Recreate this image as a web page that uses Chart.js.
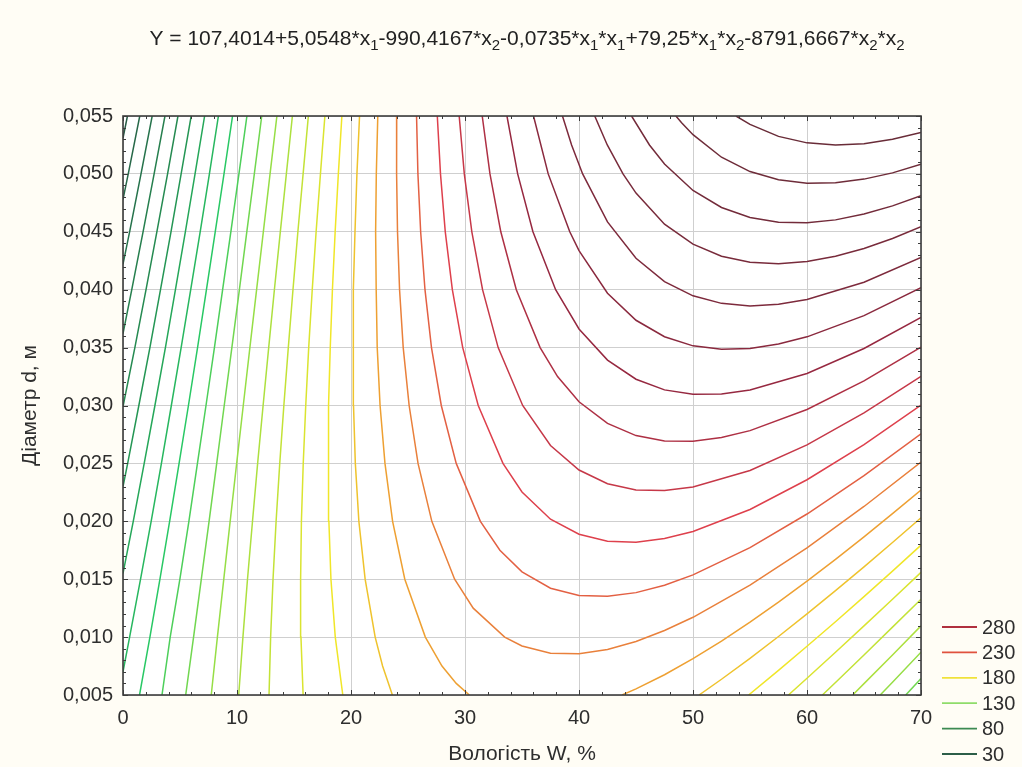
<!DOCTYPE html>
<html>
<head>
<meta charset="utf-8">
<title>Y(W, d) contour plot</title>
<script src="https://cdn.jsdelivr.net/npm/chart.js@4.4.1/dist/chart.umd.min.js"></script>
<style>
  html, body { margin: 0; padding: 0; background: #fffdf5; }
  #wrap { position: relative; width: 1022px; height: 767px; }
</style>
</head>
<body>
<div id="wrap"><canvas id="contourChart" width="1022" height="767"></canvas></div>
<script>
// axis ticks
const xTicks = [0, 10, 20, 30, 40, 50, 60, 70];
const yTicks = [0.005, 0.010, 0.015, 0.020, 0.025, 0.030, 0.035, 0.040, 0.045, 0.050, 0.055];
const legendLevels = [280, 230, 180, 130, 80, 30];

// contour lines, points are [W %, d m]
const c030 = [[0, 0.0531], [0.39, 0.055]];
const c040 = [[0, 0.0478], [0.46, 0.050], [1.47, 0.055]];
const c050 = [[0, 0.0422], [0.58, 0.045], [1.58, 0.050], [2.56, 0.055]];
const c060 = [[0, 0.0362], [0.77, 0.040], [1.76, 0.045], [2.73, 0.050], [3.68, 0.055]];
const c070 = [[0, 0.0299], [1.04, 0.035], [2.02, 0.040], [2.97, 0.045], [3.91, 0.050], [4.82, 0.055]];
const c080 = [[0, 0.0230], [0.41, 0.025], [1.39, 0.030], [2.36, 0.035], [3.29, 0.040], [4.21, 0.045], [5.10, 0.050], [5.98, 0.055]];
const c090 = [[0, 0.0155], [0.90, 0.020], [1.86, 0.025], [2.80, 0.030], [3.72, 0.035], [4.60, 0.040], [5.47, 0.045], [6.32, 0.050], [7.16, 0.055]];
const c100 = [[0, 0.0070], [0.58, 0.010], [1.54, 0.015], [2.47, 0.020], [3.37, 0.025], [4.24, 0.030], [5.10, 0.035], [5.94, 0.040], [6.77, 0.045], [7.58, 0.050], [8.37, 0.055]];
const c110 = [[1.45, 0.005], [2.36, 0.010], [3.24, 0.015], [4.09, 0.020], [4.92, 0.025], [5.74, 0.030], [6.54, 0.035], [7.32, 0.040], [8.09, 0.045], [8.86, 0.050], [9.61, 0.055]];
const c120 = [[3.42, 0.005], [4.14, 0.010], [4.99, 0.015], [5.78, 0.020], [6.53, 0.025], [7.28, 0.030], [8.02, 0.035], [8.74, 0.040], [9.46, 0.045], [10.17, 0.050], [10.87, 0.055]];
const c130a = [[5.50, 0.005], [6.19, 0.010], [6.87, 0.015], [7.55, 0.020], [8.22, 0.025], [8.88, 0.030], [9.55, 0.035], [10.21, 0.040], [10.86, 0.045], [11.52, 0.050], [12.17, 0.055]];
const c140a = [[7.74, 0.005], [8.28, 0.010], [8.84, 0.015], [9.40, 0.020], [9.97, 0.025], [10.55, 0.030], [11.13, 0.035], [11.72, 0.040], [12.31, 0.045], [12.90, 0.050], [13.50, 0.055]];
const c150a = [[10.15, 0.005], [10.52, 0.010], [10.92, 0.015], [11.36, 0.020], [11.81, 0.025], [12.29, 0.030], [12.78, 0.035], [13.28, 0.040], [13.80, 0.045], [14.33, 0.050], [14.86, 0.055]];
const c160a = [[12.81, 0.005], [12.95, 0.010], [13.16, 0.015], [13.43, 0.020], [13.75, 0.025], [14.11, 0.030], [14.50, 0.035], [14.91, 0.040], [15.34, 0.045], [15.80, 0.050], [16.26, 0.055]];
const c170a = [[15.80, 0.005], [15.61, 0.010], [15.58, 0.015], [15.65, 0.020], [15.81, 0.025], [16.03, 0.030], [16.29, 0.035], [16.60, 0.040], [16.94, 0.045], [17.32, 0.050], [17.71, 0.055]];
const c180a = [[19.28, 0.005], [18.62, 0.010], [18.24, 0.015], [18.06, 0.020], [18.01, 0.025], [18.05, 0.030], [18.18, 0.035], [18.37, 0.040], [18.61, 0.045], [18.89, 0.050], [19.20, 0.055]];
const c190a = [[23.63, 0.005], [22.77, 0.0075], [22.12, 0.010], [21.24, 0.015], [20.69, 0.020], [20.38, 0.025], [20.22, 0.030], [20.18, 0.035], [20.23, 0.040], [20.35, 0.045], [20.52, 0.050], [20.75, 0.055]];
const c200a = [[30.38, 0.005], [29.23, 0.006], [27.98, 0.0075], [26.52, 0.010], [24.72, 0.015], [23.65, 0.020], [22.98, 0.025], [22.55, 0.030], [22.30, 0.035], [22.21, 0.040], [22.16, 0.045], [22.22, 0.050], [22.35, 0.055]];

// lower right branches
const c130b = [[68.66, 0.005], [70, 0.00642]];
const c140b = [[66.42, 0.005], [67.5, 0.00611], [70, 0.00869]];
const c150b = [[64.01, 0.005], [65, 0.00598], [67.5, 0.00846], [70, 0.01097]];
const c160b = [[61.35, 0.005], [62.5, 0.00608], [65, 0.00846], [67.5, 0.01086], [70, 0.01327]];
const c170b = [[58.37, 0.005], [60, 0.00645], [62.5, 0.00869], [65, 0.01097], [67.5, 0.01327], [70, 0.01559]];
const c180b = [[54.88, 0.005], [57.5, 0.00713], [60, 0.00921], [62.5, 0.01133], [65, 0.01350], [67.5, 0.01570], [70, 0.01794]];
const c190b = [[50.53, 0.005], [52.5, 0.00636], [55, 0.00817], [57.5, 0.01005], [60, 0.01200], [62.5, 0.01401], [65, 0.01607], [67.5, 0.01817], [70, 0.02031]];
const c200b = [[43.78, 0.005], [45, 0.00553], [47.5, 0.00675], [50, 0.00814], [52.5, 0.00966], [55, 0.01129], [57.5, 0.01302], [60, 0.01484], [62.5, 0.01672], [65, 0.01866], [67.5, 0.02066], [70, 0.02270]];

// U-shaped lines, top edge to right edge
const c210 = [[24.01, 0.055], [24.00, 0.050], [24.08, 0.045], [24.26, 0.040], [24.58, 0.035], [25.10, 0.030], [25.88, 0.025], [27.09, 0.020], [29.09, 0.015], [30.72, 0.0125], [33.48, 0.010], [35, 0.00923], [37.5, 0.00861], [40, 0.00856], [42.5, 0.00893], [45, 0.00962], [47.5, 0.01057], [50, 0.01171], [55, 0.01448], [60, 0.01771], [65, 0.02128], [70, 0.02512]];
const c220 = [[25.75, 0.055], [25.87, 0.050], [26.11, 0.045], [26.49, 0.040], [27.06, 0.035], [27.92, 0.030], [29.23, 0.025], [31.35, 0.020], [33.06, 0.0175], [35, 0.01563], [37.5, 0.01422], [40, 0.01360], [42.5, 0.01352], [45, 0.01384], [47.5, 0.01448], [50, 0.01537], [55, 0.01772], [60, 0.02063], [65, 0.02394], [70, 0.02756]];
const c230 = [[27.57, 0.055], [27.85, 0.050], [28.27, 0.045], [28.89, 0.040], [29.80, 0.035], [31.16, 0.030], [33.33, 0.025], [35, 0.02253], [37.5, 0.02018], [40, 0.01888], [42.5, 0.01828], [45, 0.01820], [47.5, 0.01851], [50, 0.01912], [55, 0.02102], [60, 0.02359], [65, 0.02663], [70, 0.03003]];
const c240 = [[29.49, 0.055], [29.94, 0.050], [30.60, 0.045], [31.54, 0.040], [32.91, 0.035], [35.06, 0.030], [37.5, 0.02655], [40, 0.02443], [42.5, 0.02325], [45, 0.02271], [47.5, 0.02265], [50, 0.02296], [55, 0.02439], [60, 0.02660], [65, 0.02936], [70, 0.03252]];
const c250 = [[31.51, 0.055], [32.19, 0.050], [33.14, 0.045], [34.50, 0.040], [36.59, 0.035], [38.12, 0.0325], [40, 0.03032], [42.5, 0.02845], [45, 0.02740], [47.5, 0.02693], [50, 0.02691], [52.5, 0.02723], [55, 0.02783], [60, 0.02966], [65, 0.03212], [70, 0.03505]];
const c260 = [[33.68, 0.055], [34.62, 0.050], [35.96, 0.045], [37.95, 0.040], [40, 0.03661], [42.5, 0.03392], [45, 0.03227], [47.5, 0.03135], [50, 0.03097], [52.5, 0.03099], [55, 0.03134], [60, 0.03277], [65, 0.03492], [70, 0.03760]];
const c270 = [[36.01, 0.055], [37.30, 0.050], [39.19, 0.045], [40, 0.04338], [42.5, 0.03969], [45, 0.03736], [47.5, 0.03594], [50, 0.03515], [52.5, 0.03485], [55, 0.03493], [57.5, 0.03531], [60, 0.03593], [65, 0.03776], [70, 0.04018]];
const c280 = [[38.55, 0.055], [39.35, 0.0525], [40.32, 0.050], [42.5, 0.04585], [45, 0.04271], [47.5, 0.04070], [50, 0.03947], [52.5, 0.03882], [55, 0.03860], [57.5, 0.03874], [60, 0.03915], [65, 0.04064], [70, 0.04279]];
const c290 = [[41.38, 0.055], [42.48, 0.0525], [43.86, 0.050], [45, 0.04834], [47.5, 0.04566], [50, 0.04394], [52.5, 0.04289], [55, 0.04237], [57.5, 0.04224], [60, 0.04243], [62.5, 0.04289], [65, 0.04356], [67.5, 0.04442], [70, 0.04544]];
const c300 = [[44.61, 0.055], [46.18, 0.0525], [47.5, 0.05085], [50, 0.04857], [52.5, 0.04710], [55, 0.04623], [57.5, 0.04582], [60, 0.04578], [62.5, 0.04603], [65, 0.04653], [67.5, 0.04724], [70, 0.04812]];
const c310 = [[48.50, 0.055], [49, 0.05442], [50, 0.05339], [52.5, 0.05144], [55, 0.05020], [57.5, 0.04949], [60, 0.04919], [62.5, 0.04923], [65, 0.04955], [67.5, 0.05009], [70, 0.05083]];
const c320 = [[53.77, 0.055], [55, 0.05428], [57.5, 0.05324], [60, 0.05268], [62.5, 0.05249], [65, 0.05261], [67.5, 0.05299], [70, 0.05358]];

const contourLines = [
  [30, c030], [40, c040], [50, c050], [60, c060], [70, c070], [80, c080], [90, c090], [100, c100],
  [110, c110], [120, c120], [130, c130a], [140, c140a], [150, c150a], [160, c160a], [170, c170a],
  [180, c180a], [190, c190a], [200, c200a],
  [130, c130b], [140, c140b], [150, c150b], [160, c160b], [170, c170b], [180, c180b], [190, c190b], [200, c200b],
  [210, c210], [220, c220], [230, c230], [240, c240], [250, c250], [260, c260], [270, c270],
  [280, c280], [290, c290], [300, c300], [310, c310], [320, c320]
];

const titleParts = [
  ['Y = 107,4014+5,0548*x', false], ['1', true], ['-990,4167*x', false], ['2', true],
  ['-0,0735*x', false], ['1', true], ['*x', false], ['1', true], ['+79,25*x', false], ['1', true],
  ['*x', false], ['2', true], ['-8791,6667*x', false], ['2', true], ['*x', false], ['2', true]
];

const FONT = "'Liberation Sans', Arial, sans-serif";
const TEXT_COLOR = '#2e2e2e';

// colour ramp dark green -> yellow -> dark red
const colorStops = [
  [30, [40, 92, 70]], [80, [36, 150, 84]], [110, [40, 200, 100]], [140, [150, 222, 70]],
  [180, [240, 230, 40]], [200, [238, 160, 50]], [230, [222, 64, 76]], [260, [150, 40, 64]],
  [280, [125, 42, 60]], [320, [105, 44, 56]]
];

function levelColor(level) {
  for (let i = 1; i < colorStops.length; i++) {
    const [l1, c1] = colorStops[i];
    const [l0, c0] = colorStops[i - 1];
    if (level <= l1) {
      const t = (level - l0) / (l1 - l0);
      const c = c0.map((v, k) => Math.round(v + (c1[k] - v) * t));
      return `rgb(${c[0]},${c[1]},${c[2]})`;
    }
  }
  const c = colorStops[colorStops.length - 1][1];
  return `rgb(${c[0]},${c[1]},${c[2]})`;
}

// legend swatches are a bit lighter than the lines in the reference
const legendColors = {
  280: '#b0303e', 230: '#e0523e', 180: '#f0e23a', 130: '#8fdc6a', 80: '#3c8a52', 30: '#2c5e48'
};

const plotBackground = {
  id: 'plotBackground',
  beforeDraw(chart) {
    const { ctx, chartArea: a } = chart;
    ctx.save();
    ctx.fillStyle = '#ffffff';
    ctx.fillRect(a.left, a.top, a.right - a.left, a.bottom - a.top);
    ctx.restore();
  }
};

const plotFrame = {
  id: 'plotFrame',
  afterDatasetsDraw(chart) {
    const { ctx, chartArea: a, scales } = chart;
    ctx.save();
    ctx.strokeStyle = '#3c3c3c';
    ctx.lineWidth = 1;
    ctx.beginPath();
    for (let w = 0; w <= 70; w += 2) {
      const px = Math.round(scales.x.getPixelForValue(w)) + 0.5;
      const len = w % 10 === 0 ? 5 : 3;
      ctx.moveTo(px, a.bottom); ctx.lineTo(px, a.bottom - len);
      ctx.moveTo(px, a.top); ctx.lineTo(px, a.top + len);
    }
    for (let i = 0; i <= 50; i++) {
      const py = Math.round(scales.y.getPixelForValue(0.005 + i * 0.001)) + 0.5;
      const len = i % 5 === 0 ? 5 : 3;
      ctx.moveTo(a.left, py); ctx.lineTo(a.left + len, py);
      ctx.moveTo(a.right, py); ctx.lineTo(a.right - len, py);
    }
    ctx.stroke();
    ctx.lineWidth = 1.6;
    ctx.strokeRect(a.left, a.top, a.right - a.left, a.bottom - a.top);
    ctx.restore();
  }
};

const formulaTitle = {
  id: 'formulaTitle',
  afterDraw(chart) {
    const { ctx } = chart;
    const mainFont = `21px ${FONT}`;
    const subFont = `15px ${FONT}`;
    ctx.save();
    ctx.fillStyle = '#222222';
    ctx.textBaseline = 'alphabetic';
    let total = 0;
    titleParts.forEach(([t, sub]) => {
      ctx.font = sub ? subFont : mainFont;
      total += ctx.measureText(t).width;
    });
    let x = 527 - total / 2;
    const base = 45;
    titleParts.forEach(([t, sub]) => {
      ctx.font = sub ? subFont : mainFont;
      ctx.fillText(t, x, sub ? base + 5 : base);
      x += ctx.measureText(t).width;
    });
    ctx.restore();
  }
};

const levelLegend = {
  id: 'levelLegend',
  afterDraw(chart) {
    const { ctx } = chart;
    ctx.save();
    ctx.font = `20px ${FONT}`;
    ctx.textBaseline = 'middle';
    ctx.fillStyle = TEXT_COLOR;
    legendLevels.forEach((level, i) => {
      const y = 627 + i * 25.4;
      ctx.strokeStyle = legendColors[level];
      ctx.lineWidth = 1.8;
      ctx.beginPath();
      ctx.moveTo(942, y);
      ctx.lineTo(977, y);
      ctx.stroke();
      ctx.fillText(String(level), 982, y + 1);
    });
    ctx.restore();
  }
};

const datasets = contourLines.map(([level, pts]) => ({
  label: String(level),
  data: pts.map(([w, d]) => ({ x: w, y: d })),
  showLine: true,
  borderColor: levelColor(level),
  borderWidth: 1.5,
  pointRadius: 0,
  pointHoverRadius: 0,
  tension: 0,
  fill: false
}));

new Chart(document.getElementById('contourChart'), {
  type: 'scatter',
  data: { datasets },
  options: {
    responsive: false,
    animation: false,
    events: [],
    layout: { padding: { top: 116, right: 101, left: 0, bottom: 0 } },
    plugins: {
      legend: { display: false },
      tooltip: { enabled: false },
      title: { display: false }
    },
    scales: {
      x: {
        type: 'linear',
        min: 0,
        max: 70,
        afterBuildTicks: (scale) => { scale.ticks = xTicks.map(v => ({ value: v })); },
        afterFit: (scale) => { scale.height = 72; },
        grid: { color: '#cfcfcf', lineWidth: 1, drawTicks: false },
        border: { display: false },
        ticks: { padding: 11, color: TEXT_COLOR, font: { family: FONT, size: 20 } },
        title: {
          display: true,
          text: 'Вологість W, %',
          color: TEXT_COLOR,
          font: { family: FONT, size: 21 },
          padding: { top: 0, bottom: 0 }
        }
      },
      y: {
        type: 'linear',
        min: 0.005,
        max: 0.055,
        afterBuildTicks: (scale) => { scale.ticks = yTicks.map(v => ({ value: v })); },
        afterFit: (scale) => { scale.width = 123; },
        grid: { color: '#cfcfcf', lineWidth: 1, drawTicks: false },
        border: { display: false },
        ticks: {
          padding: 10,
          color: TEXT_COLOR,
          font: { family: FONT, size: 20 },
          callback: (v) => Number(v).toFixed(3).replace('.', ',')
        },
        title: {
          display: true,
          text: 'Діаметр d, м',
          color: TEXT_COLOR,
          font: { family: FONT, size: 21 },
          padding: { top: 18, bottom: 0 }
        }
      }
    }
  },
  plugins: [plotBackground, plotFrame, formulaTitle, levelLegend]
});
</script>
</body>
</html>
